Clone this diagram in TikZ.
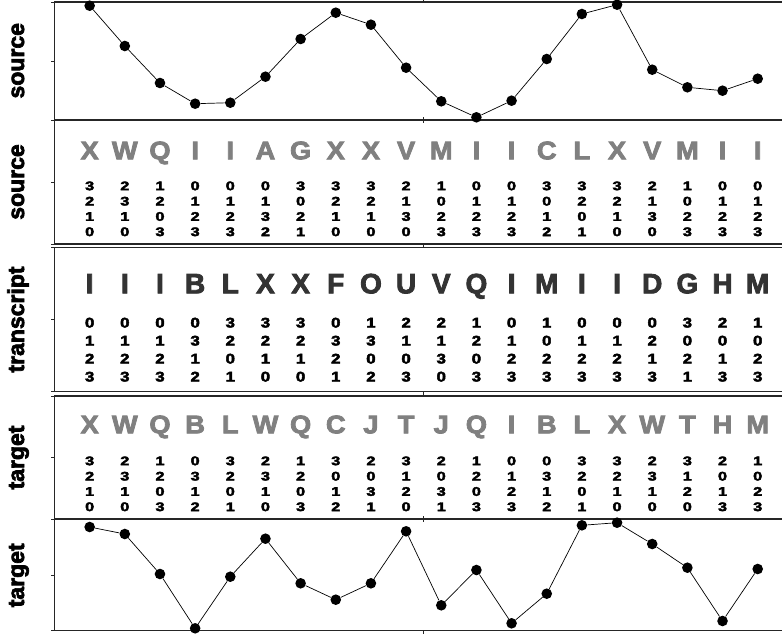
\documentclass[tikz,border=0pt]{standalone}
\usepackage{fontspec}
\setmainfont{Liberation Sans}[BoldFeatures={FakeBold=3}]
\usepackage{graphicx}
\newcommand{\wdig}[1]{\scalebox{1.3}[1]{#1}}
\begin{document}
\begin{tikzpicture}[x=1pt,y=-1pt,
  frame/.style={line width=1.1pt, draw=black!85},
  axtick/.style={line width=0.6pt, draw=black!85},
  dot/.style={circle, fill=black, inner sep=0pt, minimum size=10.6pt},
  curve/.style={line width=0.7pt, draw=black},
  ylab/.style={rotate=90, anchor=base, inner sep=0pt, font=\fontsize{23}{23}\selectfont\bfseries},
  letA/.style={anchor=base, inner sep=0pt, text=black!50, font=\fontsize{25.5}{25.5}\selectfont\bfseries},
  letT/.style={anchor=base, inner sep=0pt, text=black!80, font=\fontsize{28}{28}\selectfont\bfseries},
  digA/.style={anchor=base, inner sep=0pt, font=\fontsize{12.5}{12.5}\selectfont\bfseries},
  digT/.style={anchor=base, inner sep=0pt, font=\fontsize{14}{14}\selectfont\bfseries},
]
\useasboundingbox (0,0) rectangle (782,637);
% panels
\foreach \t/\b in {2/120, 120/244, 247.3/391.7, 396/519, 519/630.7}{
  \draw[frame] (782,\t) -- (54.5,\t) -- (54.5,\b) -- (782,\b);
  \pgfmathsetmacro{\m}{(\t+\b)/2}
  \draw[axtick] (54.5,\t) -- (51,\t) (54.5,\m) -- (51,\m) (54.5,\b) -- (51,\b);
  \draw[axtick] (423.3,\t) -- (423.3,\t-3) (423.3,\b) -- (423.3,\b+3);
}
% y labels
\node[ylab] (l1) at (24,60.75) {source};
\node[ylab] (l2) at (24,182) {source};
\node[ylab] (l3) at (24,319.5) {transcript};
\node[ylab] (l4) at (24,457.5) {target};
\node[ylab] (l5) at (24,575.3) {target};
% source curve
\foreach \v [count=\i] in {5.7,46,83,103.7,102.7,76.7,39,12.7,24.7,67.7,101.3,117.3,100.7,59,14,4.7,69.7,87.3,90.7,78.7}
  \node[dot] (s\i) at (54.5+\i*35.16,\v) {};
\foreach \i [evaluate=\i as \j using int(\i+1)] in {1,...,19}
  \draw[curve] (s\i) -- (s\j);
% target curve
\foreach \v [count=\i] in {527,534,574,628.3,576.7,538.7,583.3,599.7,583.3,531.3,605.3,570,623.3,593.7,525.3,522.7,544,567.7,621,569}
  \node[dot] (t\i) at (54.5+\i*35.16,\v) {};
\foreach \i [evaluate=\i as \j using int(\i+1)] in {1,...,19}
  \draw[curve] (t\i) -- (t\j);
% source letters
\foreach \L/\a/\b/\c/\d [count=\i] in {X/3/2/1/0,W/2/3/1/0,Q/1/2/0/3,I/0/1/2/3,I/0/1/2/3,A/0/1/3/2,G/3/0/2/1,X/3/2/1/0,X/3/2/1/0,V/2/1/3/0,M/1/0/2/3,I/0/1/2/3,I/0/1/2/3,C/3/0/1/2,L/3/2/0/1,X/3/2/1/0,V/2/1/3/0,M/1/0/2/3,I/0/1/2/3,I/0/1/2/3}{
  \node[letA] (sl\i) at (54.5+\i*35.16,159.3) {\scalebox{1.07}[1]{\L}};
  \node[digA] (sa\i) at (54.5+\i*35.16,190.2) {\wdig{\a}};
  \node[digA] (sb\i) at (54.5+\i*35.16,205.5) {\wdig{\b}};
  \node[digA] (sc\i) at (54.5+\i*35.16,220.8) {\wdig{\c}};
  \node[digA] (sd\i) at (54.5+\i*35.16,236.1) {\wdig{\d}};
}
% transcript letters
\foreach \L/\a/\b/\c/\d [count=\i] in {I/0/1/2/3,I/0/1/2/3,I/0/1/2/3,B/0/3/1/2,L/3/2/0/1,X/3/2/1/0,X/3/2/1/0,F/0/3/2/1,O/1/3/0/2,U/2/1/0/3,V/2/1/3/0,Q/1/2/0/3,I/0/1/2/3,M/1/0/2/3,I/0/1/2/3,I/0/1/2/3,D/0/2/1/3,G/3/0/2/1,H/2/0/1/3,M/1/0/2/3}{
  \node[letT] (rl\i) at (54.5+\i*35.16,293.3) {\L};
  \node[digT] (ra\i) at (54.5+\i*35.16,327.5) {\scalebox{1.2}[1]{\a}};
  \node[digT] (rb\i) at (54.5+\i*35.16,345.5) {\scalebox{1.2}[1]{\b}};
  \node[digT] (rc\i) at (54.5+\i*35.16,363.5) {\scalebox{1.2}[1]{\c}};
  \node[digT] (rd\i) at (54.5+\i*35.16,381.5) {\scalebox{1.2}[1]{\d}};
}
% target letters
\foreach \L/\a/\b/\c/\d [count=\i] in {X/3/2/1/0,W/2/3/1/0,Q/1/2/0/3,B/0/3/1/2,L/3/2/0/1,W/2/3/1/0,Q/1/2/0/3,C/3/0/1/2,J/2/0/3/1,T/3/1/2/0,J/2/0/3/1,Q/1/2/0/3,I/0/1/2/3,B/0/3/1/2,L/3/2/0/1,X/3/2/1/0,W/2/3/1/0,T/3/1/2/0,H/2/0/1/3,M/1/0/2/3}{
  \node[letA] (gl\i) at (54.5+\i*35.16,433.3) {\scalebox{1.07}[1]{\L}};
  \node[digA] (ga\i) at (54.5+\i*35.16,465.2) {\wdig{\a}};
  \node[digA] (gb\i) at (54.5+\i*35.16,480.5) {\wdig{\b}};
  \node[digA] (gc\i) at (54.5+\i*35.16,495.8) {\wdig{\c}};
  \node[digA] (gd\i) at (54.5+\i*35.16,511.1) {\wdig{\d}};
}
\end{tikzpicture}
\end{document}
